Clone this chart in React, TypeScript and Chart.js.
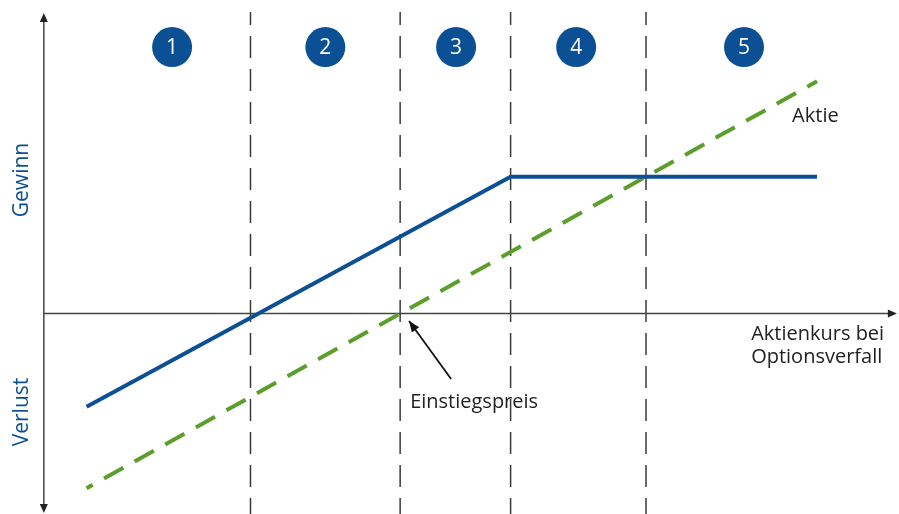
import React, { useEffect, useRef } from "react";
import { Chart, registerables } from "chart.js";

Chart.register(...registerables);

// ---- data ----
const zoneBounds = [58, 100, 131, 169];
const zoneLabels = ["1", "2", "3", "4", "5"];
const zoneLabelX = [36, 79, 115.7, 149.4, 196.5];
const zoneLabelY = 134.3;
const aktieX = [12, 217];
const aktieY = [-88, 117];
const strategyX = [12, 131, 217];
const strategyY = [-47, 69, 69];
const entryPrice = 100;

// ---- scale extents ----
const X_MIN = -12.3;
const X_MAX = 240;
const Y_MIN = -101;
const Y_MAX = 158;
const Y_AXIS_TOP = 151.4;
const Y_AXIS_BOTTOM = -100.5;
const X_AXIS_RIGHT = 239.4;
const DASH_TOP = 152;

const BLUE = "#0b4f94";
const GREEN = "#5c9e2b";
const TEXT = "#222222";
const AXIS = "#444444";
const FONT = "'Open Sans', 'Noto Sans', sans-serif";

function arrowHead(ctx: CanvasRenderingContext2D, fx: number, fy: number, tx: number, ty: number, len: number, w: number) {
  const a = Math.atan2(ty - fy, tx - fx);
  ctx.beginPath();
  ctx.moveTo(tx, ty);
  ctx.lineTo(tx - len * Math.cos(a) + w * Math.sin(a), ty - len * Math.sin(a) - w * Math.cos(a));
  ctx.lineTo(tx - len * Math.cos(a) - w * Math.sin(a), ty - len * Math.sin(a) + w * Math.cos(a));
  ctx.closePath();
  ctx.fill();
}

const overlay = {
  id: "overlay",
  afterDatasetsDraw(chart: any) {
    const ctx: CanvasRenderingContext2D = chart.ctx;
    const xs = chart.scales.x;
    const ys = chart.scales.y;
    const px = (v: number) => xs.getPixelForValue(v);
    const py = (v: number) => ys.getPixelForValue(v);
    ctx.save();
    // axis arrowheads
    ctx.fillStyle = "#222";
    arrowHead(ctx, px(0), py(0), px(0), py(Y_AXIS_TOP), 9, 4);
    arrowHead(ctx, px(0), py(0), px(0), py(Y_AXIS_BOTTOM), 9, 4);
    arrowHead(ctx, px(0), py(0), px(X_AXIS_RIGHT), py(0), 9, 4);

    // zone numbers
    ctx.fillStyle = "#ffffff";
    ctx.font = `21px ${FONT}`;
    ctx.textAlign = "center";
    ctx.textBaseline = "middle";
    zoneLabels.forEach((l, i) => {
      ctx.fillText(l, px(zoneLabelX[i]), py(zoneLabelY) + 1);
    });

    // annotations
    ctx.fillStyle = TEXT;
    ctx.font = `20px ${FONT}`;
    ctx.textAlign = "left";
    ctx.textBaseline = "alphabetic";
    ctx.fillText("Einstiegspreis", px(102.8), py(-47.4));
    ctx.fillText("Aktie", px(210), py(96.7));
    ctx.fillText("Aktienkurs bei", px(198.5), py(-13.3));
    ctx.fillText("Optionsverfall", px(198.5), py(-24.9));

    // entry price arrow
    ctx.strokeStyle = "#111";
    ctx.lineWidth = 1.8;
    const tx = px(entryPrice + 2.5), ty = py(-3.7);
    const fx = px(114.3), fy = py(-33.0);
    ctx.beginPath();
    ctx.moveTo(fx, fy);
    ctx.lineTo(tx, ty);
    ctx.stroke();
    ctx.fillStyle = "#111";
    arrowHead(ctx, fx, fy, tx, ty, 11, 4.5);

    // axis titles
    ctx.fillStyle = BLUE;
    ctx.font = `21px ${FONT}`;
    ctx.textAlign = "center";
    ctx.textBaseline = "middle";
    ctx.save();
    ctx.translate(px(-6.13), py(67.3));
    ctx.rotate(-Math.PI / 2);
    ctx.fillText("Gewinn", 0, 0);
    ctx.restore();
    ctx.save();
    ctx.translate(px(-6.13), py(-49.6));
    ctx.rotate(-Math.PI / 2);
    ctx.fillText("Verlust", 0, 0);
    ctx.restore();

    ctx.restore();
  },
};

export default function App() {
  const ref = useRef<HTMLCanvasElement | null>(null);
  useEffect(() => {
    document.body.style.margin = "0";
    if (!ref.current) return;
    const datasets: any[] = [];
    // vertical zone boundaries
    zoneBounds.forEach((b) => {
      datasets.push({
        data: [{ x: b, y: DASH_TOP }, { x: b, y: Y_MIN }],
        borderColor: "#3a3a3a",
        borderWidth: 1.5,
        borderDash: [22, 11],
        borderDashOffset: 9,
        pointRadius: 0,
        showLine: true,
        order: 5,
      });
    });
    // axes
    datasets.push({
      data: [{ x: 0, y: Y_AXIS_TOP - 2 }, { x: 0, y: Y_AXIS_BOTTOM + 2 }],
      borderColor: AXIS,
      borderWidth: 1.5,
      pointRadius: 0,
      showLine: true,
      order: 4,
    });
    datasets.push({
      data: [{ x: 0, y: 0 }, { x: X_AXIS_RIGHT - 2, y: 0 }],
      borderColor: AXIS,
      borderWidth: 1.5,
      pointRadius: 0,
      showLine: true,
      order: 4,
    });
    // stock line (Aktie)
    datasets.push({
      data: aktieX.map((x, i) => ({ x, y: aktieY[i] })),
      borderColor: GREEN,
      borderWidth: 4,
      borderDash: [22, 13],
      borderDashOffset: 15,
      pointRadius: 0,
      showLine: true,
      order: 2,
    });
    // strategy line
    datasets.push({
      data: strategyX.map((x, i) => ({ x, y: strategyY[i] })),
      borderColor: BLUE,
      borderWidth: 4,
      pointRadius: 0,
      showLine: true,
      order: 1,
    });
    // zone circles
    datasets.push({
      data: zoneLabelX.map((x) => ({ x, y: zoneLabelY })),
      pointRadius: 20,
      pointHoverRadius: 20,
      pointBackgroundColor: BLUE,
      pointBorderWidth: 0,
      borderColor: BLUE,
      showLine: false,
      order: 0,
    });

    const chart = new Chart(ref.current, {
      type: "scatter",
      data: { datasets },
      options: {
        animation: false,
        responsive: false,
        layout: { padding: 0, autoPadding: false },
        events: [],
        scales: {
          x: { type: "linear", min: X_MIN, max: X_MAX, display: false },
          y: { type: "linear", min: Y_MIN, max: Y_MAX, display: false },
        },
        plugins: { legend: { display: false }, tooltip: { enabled: false } },
        elements: { line: { tension: 0, borderCapStyle: "butt" } },
      },
      plugins: [overlay],
    } as any);
    return () => chart.destroy();
  }, []);
  return (
    <div style={{ width: 899, height: 514, background: "#fff" }}>
      <canvas ref={ref} width={899} height={514} style={{ display: "block" }} />
    </div>
  );
}
